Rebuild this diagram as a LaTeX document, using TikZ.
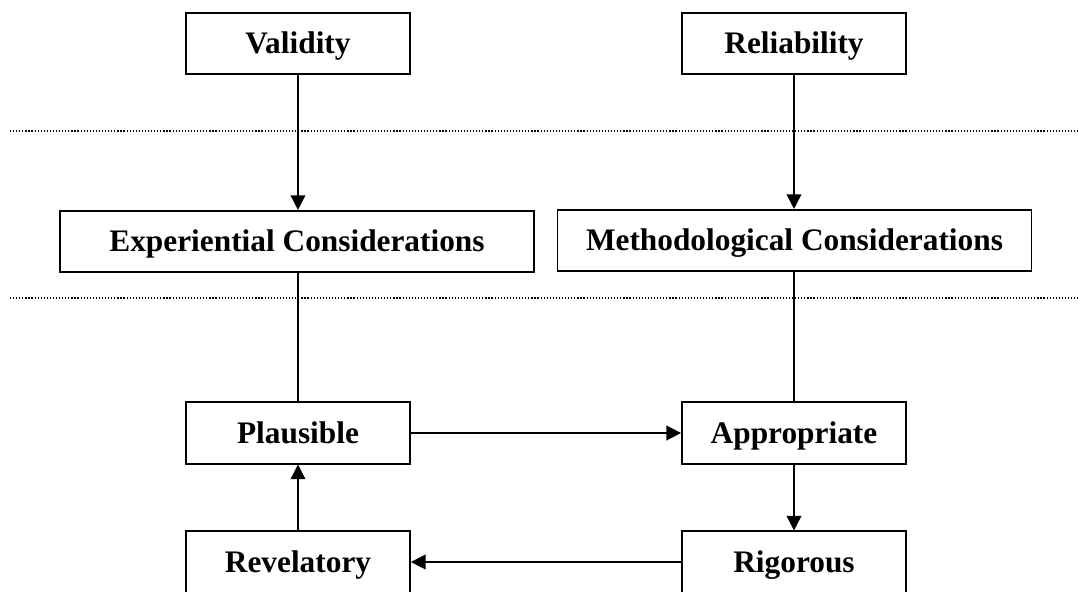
\documentclass[tikz,border=0pt]{standalone}
\usepackage{fontspec}
\setmainfont{Liberation Serif}
\usetikzlibrary{arrows.meta}

\begin{document}
\begin{tikzpicture}[
  x=0.75pt, y=-0.75pt,
  >={Triangle[length=11pt, width=11pt]},
  box/.style={draw=black, line width=1.3pt, fill=white, inner sep=0pt,
    minimum height=46pt, text height=15.5pt, text depth=0pt,
    font=\fontsize{23.5}{28}\selectfont\bfseries},
  smallbox/.style={box, minimum width=168pt},
  widebox/.style={box, minimum width=355.5pt},
  flow/.style={line width=1.1pt, ->},
  link/.style={line width=1.1pt},
  divider/.style={line width=0.9pt, dash pattern=on 0.9pt off 1.4pt}
]

% Fix the page to the reference size.
\useasboundingbox (0,0) rectangle (1078,592);

% Dotted dividers between the levels.
\draw[divider] (10,131) -- (1078,131);
\draw[divider] (10,298) -- (1078,298);

% Top level.
\node[smallbox] (validity) at (298,43.5) {Validity};
\node[smallbox] (reliability) at (794,43.5) {Reliability};

% Middle level.
\node[widebox] (experiential) at (297,241.5) {Experiential Considerations};
\node[widebox] (methodological) at (794.5,240.5) {Methodological Considerations};

% Bottom cycle.
\node[smallbox] (plausible) at (298,433) {Plausible};
\node[smallbox] (appropriate) at (794,433) {Appropriate};
\node[smallbox] (rigorous) at (794,562) {Rigorous};
\node[smallbox] (revelatory) at (298,562) {Revelatory};

% Connections from the top level down.
\draw[flow] (validity.south) -- (validity.south |- experiential.north);
\draw[flow] (reliability.south) -- (reliability.south |- methodological.north);
\draw[link] (plausible.north |- experiential.south) -- (plausible.north);
\draw[link] (appropriate.north |- methodological.south) -- (appropriate.north);

% The cycle.
\draw[flow] (plausible) -- (appropriate);
\draw[flow] (appropriate) -- (rigorous);
\draw[flow] (rigorous) -- (revelatory);
\draw[flow] (revelatory) -- (plausible);

\end{tikzpicture}
\end{document}
